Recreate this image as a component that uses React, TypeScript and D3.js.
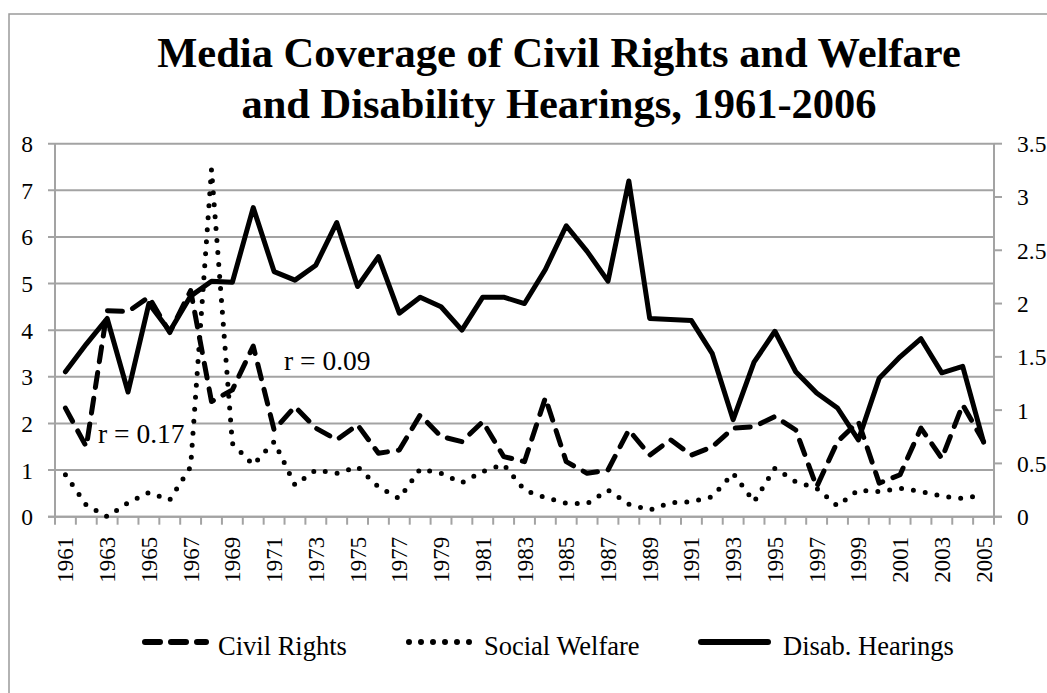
import React from "react";
import * as d3 from "d3";

const years = [
  "1961","1962","1963","1964","1965","1966","1967","1968","1969","1970",
  "1971","1972","1973","1974","1975","1976","1977","1978","1979","1980",
  "1981","1982","1983","1984","1985","1986","1987","1988","1989","1990",
  "1991","1992","1993","1994","1995","1996","1997","1998","1999","2000",
  "2001","2002","2003","2004","2005",
];

// left axis
const civilRights = [
  2.33,1.5,4.42,4.4,4.71,3.95,4.85,2.47,2.72,3.66,
  1.86,2.36,1.9,1.65,1.97,1.36,1.43,2.18,1.72,1.61,
  2.04,1.29,1.18,2.55,1.18,0.93,1.0,1.86,1.32,1.65,
  1.32,1.5,1.9,1.93,2.15,1.86,0.64,1.61,2.04,0.72,
  0.9,1.9,1.25,2.4,1.61,
];

// left axis
const socialWelfare = [
  0.9,0.25,0.0,0.3,0.52,0.36,1.07,7.45,1.57,1.11,
  1.61,0.68,1.0,0.93,1.07,0.64,0.39,1.02,0.93,0.73,
  0.97,1.12,0.57,0.41,0.29,0.28,0.57,0.27,0.14,0.3,
  0.32,0.43,0.93,0.32,1.04,0.75,0.61,0.23,0.57,0.54,
  0.61,0.54,0.44,0.39,0.47,
];

// right axis
const disabHearings = [
  1.36,1.62,1.86,1.17,2.0,1.74,2.07,2.21,2.2,2.9,
  2.3,2.22,2.36,2.76,2.16,2.44,1.91,2.06,1.97,1.75,
  2.06,2.06,2.0,2.32,2.73,2.49,2.21,3.15,1.86,1.85,
  1.84,1.53,0.91,1.45,1.74,1.36,1.16,1.02,0.72,1.3,
  1.5,1.67,1.35,1.41,0.7,
];

const leftTicks = [0, 1, 2, 3, 4, 5, 6, 7, 8];
const rightTicks = [0, 0.5, 1, 1.5, 2, 2.5, 3, 3.5];
const rightTickLabels = ["0", "0.5", "1", "1.5", "2", "2.5", "3", "3.5"];
const titleLines = [
  "Media Coverage of Civil Rights and Welfare",
  "and Disability Hearings, 1961-2006",
];
const legendItems = ["Civil Rights", "Social Welfare", "Disab. Hearings"];
const annotations = ["r = 0.17", "r = 0.09"];

const W = 1047;
const H = 693;
const plot = { left: 55, right: 994, top: 143.7, bottom: 516.7 };
const FONT = "Liberation Serif, Tinos, Times New Roman, Times, DejaVu Serif, serif";
const GRID = "#a3a3a3";

const styles = {
  civil: { dash: "15 11", cap: "round", width: 5 },
  social: { dash: "0 12", cap: "round", width: 5 },
  disab: { dash: "", cap: "round", width: 5 },
};

export default function App() {
  const x = d3.scaleBand<string>().domain(years).range([plot.left, plot.right]).padding(0);
  const bw = x.bandwidth();
  const cx = (y: string) => (x(y) as number) + bw / 2;
  const yL = d3.scaleLinear().domain([0, 8]).range([plot.bottom, plot.top]);
  const yR = d3.scaleLinear().domain([0, 3.5]).range([plot.bottom, plot.top]);

  const lineL = d3
    .line<number>()
    .x((_, i) => cx(years[i]))
    .y((d) => yL(d));
  const lineR = d3
    .line<number>()
    .x((_, i) => cx(years[i]))
    .y((d) => yR(d));

  const boundaries = years.map((y) => x(y) as number).concat([plot.right]);

  const legendLayout = [
    { x1: 145, x2: 206, tx: 218, st: styles.civil },
    { x1: 409, x2: 470, tx: 484, st: styles.social },
    { x1: 701, x2: 768, tx: 783, st: styles.disab },
  ];
  const legendY = 642;
  const txt = { fontFamily: FONT };

  return (
    <svg
      width={W}
      height={H}
      style={{ position: "absolute", left: 0, top: 0, display: "block", background: "#fff" }}
    >
      <rect x={9} y={14} width={1200} height={800} fill="#fff" stroke="#9a9a9a" strokeWidth={1.5} />

      {/* title */}
      {titleLines.map((t, i) => (
        <text
          key={t}
          x={559}
          y={67 + i * 51}
          textAnchor="middle"
          style={txt}
          fontWeight="bold"
          fontSize={42.5}
          fill="#000"
        >
          {t}
        </text>
      ))}

      {/* gridlines */}
      {leftTicks.map((t) => (
        <line key={"g" + t} x1={plot.left - 7} x2={plot.right} y1={yL(t)} y2={yL(t)} stroke={GRID} strokeWidth={2} />
      ))}

      {/* left axis */}
      <line x1={plot.left} x2={plot.left} y1={plot.top} y2={plot.bottom} stroke={GRID} strokeWidth={2} />
      {leftTicks.map((t) => (
        <text
          key={"l" + t}
          x={33}
          y={yL(t)}
          dy="0.36em"
          textAnchor="end"
          style={txt}
          fontSize={23.5}
          fill="#000"
        >
          {t}
        </text>
      ))}

      {/* right axis */}
      <line x1={plot.right} x2={plot.right} y1={plot.top} y2={plot.bottom} stroke={GRID} strokeWidth={2} />
      {rightTicks.map((t, i) => (
        <g key={"r" + t}>
          <line x1={plot.right} x2={plot.right + 8} y1={yR(t)} y2={yR(t)} stroke={GRID} strokeWidth={2} />
          <text
            x={1017}
            y={yR(t)}
            dy="0.36em"
            textAnchor="start"
            style={txt}
            fontSize={23.5}
            fill="#000"
          >
            {rightTickLabels[i]}
          </text>
        </g>
      ))}

      {/* x axis */}
      <line x1={plot.left - 7} x2={plot.right + 8} y1={plot.bottom} y2={plot.bottom} stroke={GRID} strokeWidth={2} />
      {boundaries.map((b, i) => (
        <line key={"xt" + i} x1={b} x2={b} y1={plot.bottom} y2={plot.bottom + 8} stroke={GRID} strokeWidth={2} />
      ))}
      {years.map((y, i) =>
        i % 2 === 0 ? (
          <text
            key={"xl" + y}
            transform={`translate(${cx(y)},${plot.bottom + 20}) rotate(-90)`}
            dy="0.35em"
            textAnchor="end"
            style={txt}
            fontSize={23}
            fill="#000"
          >
            {y}
          </text>
        ) : null
      )}

      {/* annotation boxes */}
      <rect x={97} y={419} width={95} height={30} fill="#fff" />
      <text x={98} y={443} style={txt} fontSize={27.5} fill="#000">
        {annotations[0]}
      </text>
      <text x={284} y={370} style={txt} fontSize={27.5} fill="#000">
        {annotations[1]}
      </text>

      {/* series */}
      <path
        d={lineL(socialWelfare) || ""}
        fill="none"
        stroke="#000"
        strokeWidth={styles.social.width}
        strokeDasharray={styles.social.dash}
        strokeLinecap="round"
        strokeLinejoin="round"
      />
      <path
        d={lineL(civilRights) || ""}
        fill="none"
        stroke="#000"
        strokeWidth={styles.civil.width}
        strokeDasharray={styles.civil.dash}
        strokeLinecap="round"
        strokeLinejoin="round"
      />
      <path
        d={lineR(disabHearings) || ""}
        fill="none"
        stroke="#000"
        strokeWidth={styles.disab.width}
        strokeLinecap="round"
        strokeLinejoin="round"
      />

      {/* legend */}
      {legendItems.map((name, i) => {
        const L = legendLayout[i];
        return (
          <g key={name}>
            <line
              x1={L.x1}
              x2={L.x2}
              y1={legendY}
              y2={legendY}
              stroke="#000"
              strokeWidth={L.st.width + 1}
              strokeDasharray={L.st.dash || undefined}
              strokeLinecap="round"
            />
            <text x={L.tx} y={legendY + 13} style={txt} fontSize={26.5} fill="#000">
              {name}
            </text>
          </g>
        );
      })}
    </svg>
  );
}
